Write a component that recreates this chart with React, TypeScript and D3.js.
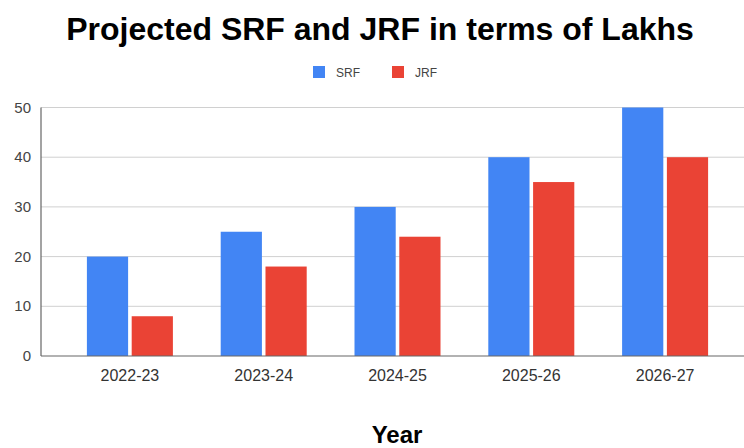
import React from "react";
import * as d3 from "d3";

const categories = ["2022-23", "2023-24", "2024-25", "2025-26", "2026-27"];
const seriesNames = ["SRF", "JRF"];
const srfValues = [20, 25, 30, 40, 50];
const jrfValues = [8, 18, 24, 35, 40];
const yTicks = [0, 10, 20, 30, 40, 50];
const colors = ["#4285F4", "#EA4335"];

const W = 744;
const H = 448;

export default function App() {
  const values = [srfValues, jrfValues];
  const x = d3.scaleBand<string>().domain(categories).range([63, 732]).paddingInner(0).paddingOuter(0);
  const y = d3.scaleLinear().domain([0, 50]).range([356, 107.5]);
  const groupW = 86;
  const xs = d3.scaleBand<string>().domain(seriesNames).range([0, groupW]).paddingInner(0.08);
  const font = "'Liberation Sans', Arial, sans-serif";

  return (
    <div style={{ position: "fixed", left: 0, top: 0 }}>
      <svg width={W} height={H} style={{ display: "block", background: "#fff" }} fontFamily={font}>
        <rect x={0} y={0} width={W} height={H} fill="#fff" />
        <text x={380} y={40} textAnchor="middle" fontSize={32} fontWeight="bold" fill="#000">
          Projected SRF and JRF in terms of Lakhs
        </text>
        {/* legend */}
        {seriesNames.map((s, i) => {
          const lx = i === 0 ? 313 : 392;
          return (
            <g key={s}>
              <rect x={lx} y={66} width={12} height={12} fill={colors[i]} />
              <text x={lx + 23} y={77} fontSize={12} fill="#444">{s}</text>
            </g>
          );
        })}
        {/* gridlines */}
        {yTicks.map((t) => (
          <g key={t}>
            {t !== 0 && (
              <line x1={41} x2={W} y1={y(t)} y2={y(t)} stroke="#d0d0d0" strokeWidth={1} />
            )}
            <text x={31} y={y(t) + 5} textAnchor="end" fontSize={15} fill="#444">{t}</text>
          </g>
        ))}
        {/* bars */}
        {categories.map((c, ci) => {
          const cx = (x(c) as number) + x.bandwidth() / 2;
          return (
            <g key={c}>
              {seriesNames.map((s, si) => {
                const v = values[si][ci];
                return (
                  <rect
                    key={s}
                    x={cx - groupW / 2 + (xs(s) as number)}
                    y={y(v)}
                    width={xs.bandwidth()}
                    height={y(0) - y(v)}
                    fill={colors[si]}
                  />
                );
              })}
              <text x={cx} y={381} textAnchor="middle" fontSize={16} fill="#333">{c}</text>
            </g>
          );
        })}
        {/* axes */}
        <line x1={41} x2={W} y1={y(0)} y2={y(0)} stroke="#666" strokeWidth={1.2} />
        <line x1={41} x2={41} y1={y(50)} y2={y(0)} stroke="#666" strokeWidth={1.2} />
        <text x={397} y={443} textAnchor="middle" fontSize={24} fontWeight="bold" fill="#000">Year</text>
      </svg>
    </div>
  );
}
